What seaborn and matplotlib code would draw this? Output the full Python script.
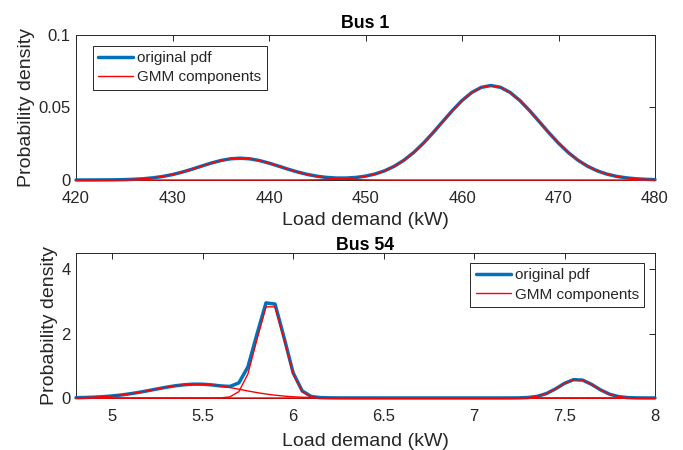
import matplotlib
matplotlib.use("Agg")
import matplotlib.pyplot as plt
import seaborn as sns
import pandas as pd

# ---------------- Bus 1 data ----------------
bus1_load = [420, 421, 422, 423, 424, 425, 426, 427, 428, 429,
             430, 431, 432, 433, 434, 435, 436, 437, 438, 439,
             440, 441, 442, 443, 444, 445, 446, 447, 448, 449,
             450, 451, 452, 453, 454, 455, 456, 457, 458, 459,
             460, 461, 462, 463, 464, 465, 466, 467, 468, 469,
             470, 471, 472, 473, 474, 475, 476, 477, 478, 479, 480]

bus1_pdf = [0.00000, 0.00001, 0.00003, 0.00006, 0.00012, 0.00025, 0.00049, 0.00088, 0.00151, 0.00244,
            0.00374, 0.00541, 0.00738, 0.00953, 0.01162, 0.01339, 0.01458, 0.01500, 0.01458, 0.01339,
            0.01162, 0.00954, 0.00739, 0.00544, 0.00380, 0.00257, 0.00176, 0.00135, 0.00135, 0.00175,
            0.00264, 0.00414, 0.00638, 0.00952, 0.01370, 0.01899, 0.02534, 0.03254, 0.04020, 0.04779,
            0.05467, 0.06019, 0.06376, 0.06500, 0.06376, 0.06019, 0.05467, 0.04779, 0.04020, 0.03254,
            0.02534, 0.01899, 0.01370, 0.00951, 0.00635, 0.00408, 0.00252, 0.00150, 0.00086, 0.00047, 0.00025]

bus1_comp1 = [0.00000, 0.00001, 0.00003, 0.00006, 0.00012, 0.00025, 0.00049, 0.00088, 0.00151, 0.00244,
              0.00374, 0.00541, 0.00738, 0.00953, 0.01162, 0.01339, 0.01458, 0.01500, 0.01458, 0.01339,
              0.01162, 0.00953, 0.00738, 0.00541, 0.00374, 0.00244, 0.00151, 0.00088, 0.00049, 0.00025,
              0.00012, 0.00006, 0.00003, 0.00001, 0, 0, 0, 0, 0, 0,
              0, 0, 0, 0, 0, 0, 0, 0, 0, 0,
              0, 0, 0, 0, 0, 0, 0, 0, 0, 0, 0]

bus1_comp2 = [0, 0, 0, 0, 0, 0, 0, 0, 0, 0,
              0, 0, 0, 0, 0, 0, 0, 0, 0, 0,
              0, 0.00001, 0.00001, 0.00003, 0.00006, 0.00013, 0.00025, 0.00047, 0.00086, 0.00150,
              0.00252, 0.00408, 0.00635, 0.00951, 0.01370, 0.01899, 0.02534, 0.03254, 0.04020, 0.04779,
              0.05467, 0.06019, 0.06376, 0.06500, 0.06376, 0.06019, 0.05467, 0.04779, 0.04020, 0.03254,
              0.02534, 0.01899, 0.01370, 0.00951, 0.00635, 0.00408, 0.00252, 0.00150, 0.00086, 0.00047, 0.00025]

# ---------------- Bus 54 data ----------------
bus54_load = [4.80, 4.85, 4.90, 4.95, 5.00, 5.05, 5.10, 5.15, 5.20, 5.25,
              5.30, 5.35, 5.40, 5.45, 5.50, 5.55, 5.60, 5.65, 5.70, 5.75,
              5.80, 5.85, 5.90, 5.95, 6.00, 6.05, 6.10, 6.15, 6.20, 6.25,
              6.30, 6.35, 6.40, 6.45, 6.50, 6.55, 6.60, 6.65, 6.70, 6.75,
              6.80, 6.85, 6.90, 6.95, 7.00, 7.05, 7.10, 7.15, 7.20, 7.25,
              7.30, 7.35, 7.40, 7.45, 7.50, 7.55, 7.60, 7.65, 7.70, 7.75,
              7.80, 7.85, 7.90, 7.95, 8.00]

bus54_pdf = [0.0087, 0.0153, 0.0256, 0.0411, 0.0632, 0.0930, 0.1311, 0.1768, 0.2284, 0.2825,
             0.3346, 0.3795, 0.4121, 0.4285, 0.4267, 0.4071, 0.3749, 0.3578, 0.4682, 0.9633,
             1.9806, 2.9514, 2.9150, 1.8717, 0.7831, 0.2197, 0.0469, 0.0114, 0.0045, 0.0022,
             0.0011, 0.0005, 0.0002, 0.0001, 0, 0, 0, 0, 0, 0,
             0, 0, 0, 0, 0, 0, 0, 0.0001, 0.0006, 0.0035,
             0.0152, 0.0516, 0.1367, 0.2823, 0.4540, 0.5685, 0.5545, 0.4211, 0.2491, 0.1148,
             0.0412, 0.0115, 0.0025, 0.0004, 0.0001]

bus54_comp1 = [0.0087, 0.0153, 0.0256, 0.0411, 0.0632, 0.0930, 0.1311, 0.1768, 0.2284, 0.2825,
               0.3346, 0.3795, 0.4121, 0.4285, 0.4267, 0.4068, 0.3713, 0.3246, 0.2717, 0.2177,
               0.1671, 0.1228, 0.0864, 0.0582, 0.0375, 0.0232, 0.0137, 0.0078, 0.0042, 0.0022,
               0.0011, 0.0005, 0.0002, 0.0001, 0, 0, 0, 0, 0, 0,
               0, 0, 0, 0, 0, 0, 0, 0, 0, 0,
               0, 0, 0, 0, 0, 0, 0, 0, 0, 0,
               0, 0, 0, 0, 0]

bus54_comp2 = [0, 0, 0, 0, 0, 0, 0, 0, 0, 0,
               0, 0, 0, 0, 0, 0.0003, 0.0036, 0.0332, 0.1965, 0.7456,
               1.8135, 2.8286, 2.8286, 1.8135, 0.7456, 0.1965, 0.0332, 0.0036, 0.0003, 0,
               0, 0, 0, 0, 0, 0, 0, 0, 0, 0,
               0, 0, 0, 0, 0, 0, 0, 0, 0, 0,
               0, 0, 0, 0, 0, 0, 0, 0, 0, 0,
               0, 0, 0, 0, 0]

bus54_comp3 = [0, 0, 0, 0, 0, 0, 0, 0, 0, 0,
               0, 0, 0, 0, 0, 0, 0, 0, 0, 0,
               0, 0, 0, 0, 0, 0, 0, 0, 0, 0,
               0, 0, 0, 0, 0, 0, 0, 0, 0, 0,
               0, 0, 0, 0, 0, 0, 0, 0.0001, 0.0006, 0.0035,
               0.0152, 0.0516, 0.1367, 0.2823, 0.4540, 0.5685, 0.5545, 0.4211, 0.2491, 0.1148,
               0.0412, 0.0115, 0.0025, 0.0004, 0.0001]

# ticks / labels
bus1_xticks = [420, 430, 440, 450, 460, 470, 480]
bus1_yticks = [0, 0.05, 0.1]
bus1_yticklabels = ["0", "0.05", "0.1"]
bus54_xticks = [5, 5.5, 6, 6.5, 7, 7.5, 8]
bus54_xticklabels = ["5", "5.5", "6", "6.5", "7", "7.5", "8"]
bus54_yticks = [0, 2, 4]
bus54_yticklabels = ["0", "2", "4"]

titles = ["Bus 1", "Bus 54"]
xlabel = "Load demand (kW)"
ylabel = "Probability density"
legend_labels = ["original pdf", "GMM components"]

# ---------------- style ----------------
sns.set_style("white")
plt.rcParams["font.family"] = ["Liberation Sans", "DejaVu Sans"]
AXC = "#262626"
BLUE = "#0072BD"
RED = "#FF0000"
plt.rcParams["axes.edgecolor"] = AXC
plt.rcParams["axes.linewidth"] = 0.7

fig = plt.figure(figsize=(6.83, 4.5), dpi=100)
ax1 = fig.add_axes([0.1113, 0.600, 0.8477, 0.3229])
ax2 = fig.add_axes([0.1113, 0.1156, 0.8477, 0.3222])


def draw(ax, x, pdf, comps):
    df = pd.DataFrame({"x": x, "pdf": pdf})
    sns.lineplot(data=df, x="x", y="pdf", ax=ax, color=BLUE, linewidth=2.5,
                 label=legend_labels[0], sort=False, estimator=None,
                 legend=False, clip_on=False, zorder=3)
    for i, c in enumerate(comps):
        dfc = pd.DataFrame({"x": x, "y": c})
        sns.lineplot(data=dfc, x="x", y="y", ax=ax, color=RED, linewidth=1.0,
                     label=legend_labels[1] if i == 0 else None, sort=False,
                     estimator=None, legend=False, clip_on=False, zorder=4)


draw(ax1, bus1_load, bus1_pdf, [bus1_comp1, bus1_comp2])
draw(ax2, bus54_load, bus54_pdf, [bus54_comp1, bus54_comp2, bus54_comp3])

ax1.set_xlim(420, 480)
ax1.set_ylim(0, 0.1)
ax1.set_xticks(bus1_xticks)
ax1.set_xticklabels([str(v) for v in bus1_xticks])
ax1.set_yticks(bus1_yticks)
ax1.set_yticklabels(bus1_yticklabels)

ax2.set_xlim(4.8, 8)
ax2.set_ylim(0, 4.5)
ax2.set_xticks(bus54_xticks)
ax2.set_xticklabels(bus54_xticklabels)
ax2.set_yticks(bus54_yticks)
ax2.set_yticklabels(bus54_yticklabels)

for ax, t, tpad, xlpad in zip([ax1, ax2], titles, [5, 2], [4, 6.5]):
    ax.set_title(t, fontsize=12.8, fontweight="bold", color="black", pad=tpad)
    ax.set_xlabel(xlabel, fontsize=14, color=AXC, labelpad=xlpad)
    ax.set_ylabel(ylabel, fontsize=14, color=AXC, labelpad=2)
    ax.tick_params(direction="in", length=4, width=0.7, top=True, right=True,
                   labelsize=12, colors=AXC)
    ax.tick_params(axis="x", pad=8)
    ax.tick_params(axis="y", pad=4)
    for s in ax.spines.values():
        s.set_visible(True)
        s.set_color(AXC)
        s.set_linewidth(0.7)
        s.set_zorder(2)

h1, l1 = ax1.get_legend_handles_labels()
leg1 = ax1.legend(h1, l1, loc="upper left", bbox_to_anchor=(0.029, 0.924),
                  borderaxespad=0, fontsize=11, handlelength=2.3, handletextpad=0.25,
                  borderpad=0.35, labelspacing=0.35, frameon=True, fancybox=False,
                  framealpha=1, edgecolor=AXC)
leg1.get_frame().set_linewidth(0.7)

h2, l2 = ax2.get_legend_handles_labels()
leg2 = ax2.legend(h2, l2, loc="upper right", bbox_to_anchor=(0.981, 0.931),
                  borderaxespad=0, fontsize=11, handlelength=2.3, handletextpad=0.25,
                  borderpad=0.35, labelspacing=0.35, frameon=True, fancybox=False,
                  framealpha=1, edgecolor=AXC)
leg2.get_frame().set_linewidth(0.7)

fig.savefig("out.png", dpi=100)
